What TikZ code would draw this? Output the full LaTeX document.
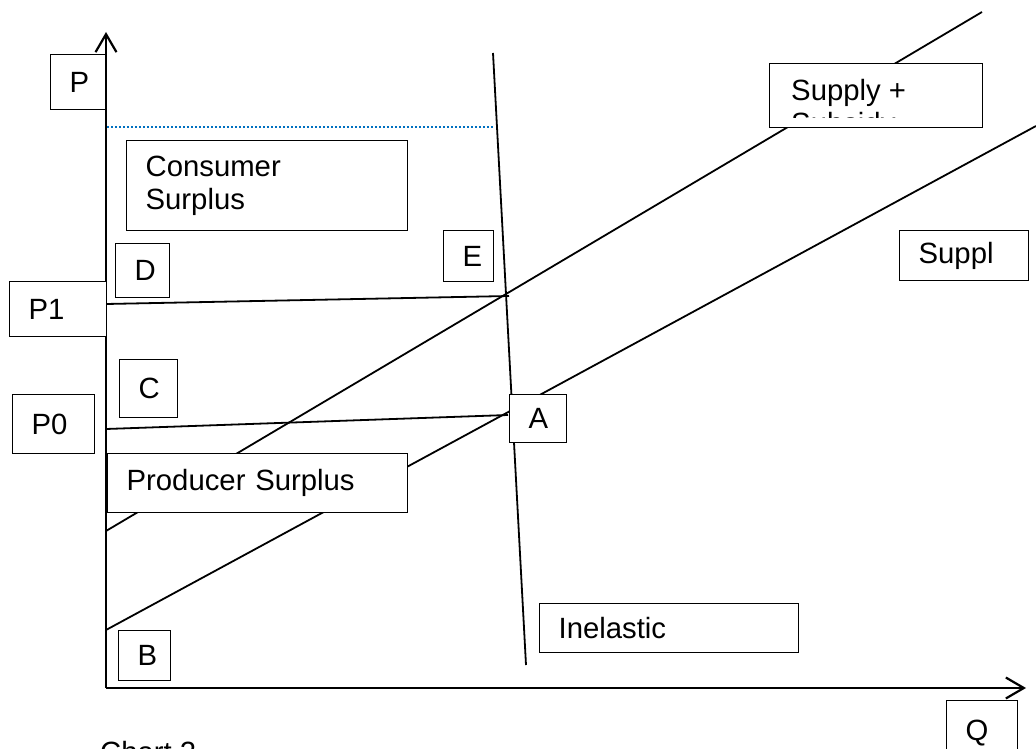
\documentclass[tikz,border=0pt]{standalone}
\usepackage{fontspec}
\setmainfont{Liberation Sans}
\usetikzlibrary{arrows.meta}
\definecolor{dotblue}{RGB}{0,112,192}
\newcommand{\bigtxt}{\fontsize{29.3}{33}\selectfont}
\tikzset{
  lbl/.style={draw, fill=white, line width=1.3pt, anchor=north west, inner ysep=0pt, inner xsep=19pt, align=left, font=\bigtxt},
  axis/.style={line width=2.2pt, -{Straight Barb[length=18pt,width=21pt,line width=2.2pt]}},
  curve/.style={line width=1.8pt},
}
\begin{document}
\begin{tikzpicture}[x=1pt,y=-1pt]
\clip (0,0) rectangle (1036,749);
\fill[white] (0,0) rectangle (1036,749);
% coordinates
\coordinate (O) at (106,688);
\coordinate (ytop) at (106,32);
\coordinate (xend) at (1026,688);
\coordinate (dL) at (107,127);
\coordinate (dR) at (493,127);
\coordinate (inTop) at (493,53);
\coordinate (inBot) at (526,665);
\coordinate (p1L) at (106,304);
\coordinate (p1R) at (509,296);
\coordinate (p0L) at (106,429);
\coordinate (p0R) at (508,415);
\coordinate (s2L) at (106,531);
\coordinate (s2R) at (982,12);
\coordinate (s1L) at (106,630);
\coordinate (s1R) at (1036,126);
% axes
\draw[axis] (O) -- (ytop);
\draw[axis] (O) -- (xend);
% lines
\draw[dotblue, line width=1.6pt, dash pattern=on 1.6pt off 2.4pt] (dL) -- (dR);
\draw[curve] (inTop) -- (inBot);
\draw[curve] (p1L) -- (p1R);
\draw[curve] (p0L) -- (p0R);
\draw[curve] (s2L) -- (s2R);
\draw[curve] (s1L) -- (s1R);
% boxes
\node[lbl, text width=17pt, minimum height=55pt] (P) at (50,54) {P};
\node[lbl, text width=243pt, minimum height=90pt, yshift=-2pt] (CS) at (126,138) {Consumer\\Surplus};
\node[lbl, text width=12pt, minimum height=51pt] (E) at (443,230) {E};
\node[lbl, text width=16pt, minimum height=54pt] (D) at (115,243) {D};
\node[lbl, text width=59pt, minimum height=55pt] (P1) at (9,281) {P1};
\node[lbl, text width=20pt, minimum height=58pt] (C) at (119,359) {C};
\node[lbl, text width=44pt, minimum height=59pt] (P0) at (12,394) {P0};
\node[lbl, text width=19pt, minimum height=48pt] (A) at (509,394) {A};
\node[lbl, text width=262pt, minimum height=59pt] (PS) at (107,453) {Producer Surplus};
\node[lbl, text width=14pt, minimum height=50pt] (B) at (118,630) {B};
\node[lbl, text width=221pt, minimum height=49pt] (Inel) at (539,603) {Inelastic};
\node[lbl, text width=91pt, minimum height=50pt] (Suppl) at (899,230) {Suppl};
\node[lbl, text width=33pt, minimum height=65pt] (Q) at (946,700) {Q};
\node[draw, fill=white, line width=1.3pt, anchor=north west, inner sep=0pt, minimum width=213pt, minimum height=64pt] (SP) at (769,63) {};
\begin{scope}
\clip (770,64) rectangle (981,118);
\node[anchor=north west, inner sep=0pt, align=left, font=\bigtxt] (SPtext) at (791,79) {Supply +\\Subsidy};
\end{scope}
\node[anchor=base west, inner sep=0pt, font=\bigtxt] (chart) at (100,762) {Chart 2};
\end{tikzpicture}
\end{document}
